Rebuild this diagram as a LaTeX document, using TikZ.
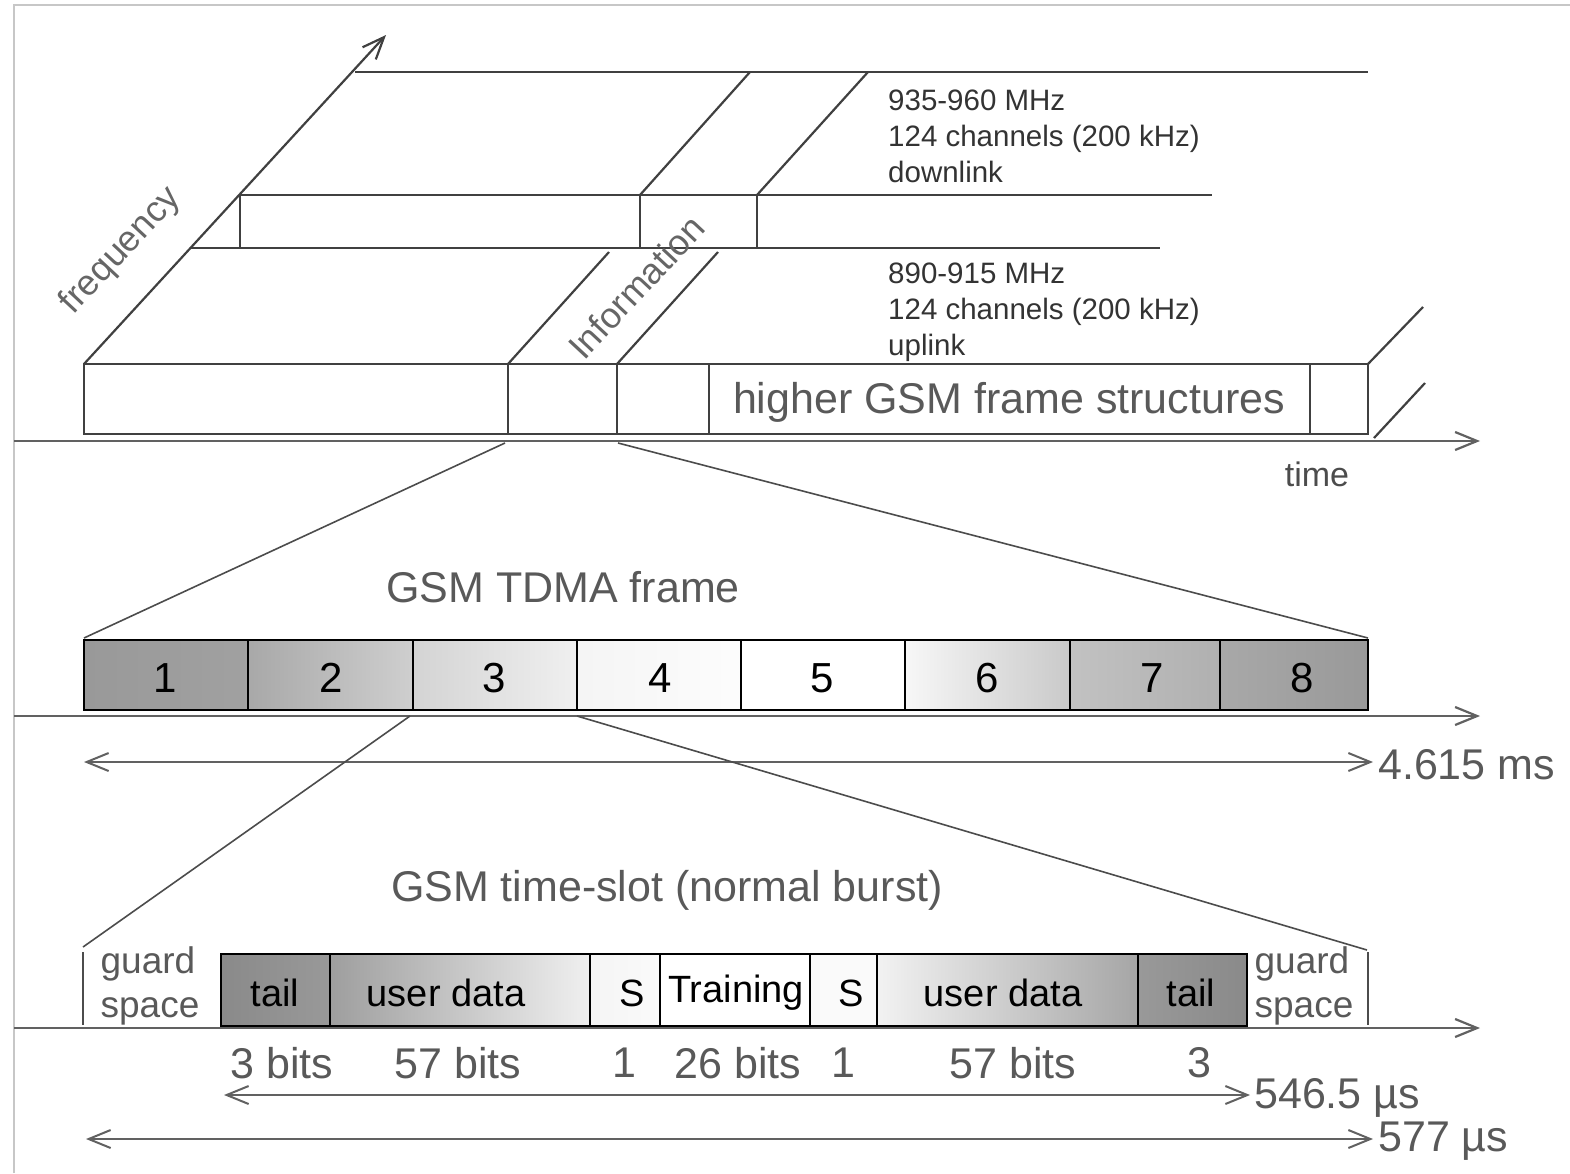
\documentclass[tikz,border=0pt]{standalone}
\usepackage{fontspec}
\setmainfont{Liberation Sans}
\usetikzlibrary{arrows.meta}
\begin{document}
\begin{tikzpicture}[x=1pt,y=-1pt,
  ln/.style={draw=black!75, line width=2.2pt},
  thinln/.style={draw=black!70, line width=1.6pt},
  axis/.style={draw=black!62, line width=2.2pt, -{Straight Barb[length=22pt,width=18pt]}},
  dbl/.style={draw=black!62, line width=2pt, {Straight Barb[length=22pt,width=18pt]}-{Straight Barb[length=22pt,width=18pt]}},
  box/.style={draw=black, line width=2.6pt},
  divi/.style={draw=black, line width=1.6pt},
  bigtxt/.style={font=\fontsize{43}{50}\selectfont, text=black!65, inner sep=0pt},
  numtxt/.style={font=\fontsize{42}{50}\selectfont, text=black, inner sep=0pt},
  celltxt/.style={font=\fontsize{38}{44}\selectfont, text=black, inner sep=0pt},
  guardtxt/.style={font=\fontsize{37}{44}\selectfont, text=black!65, inner sep=0pt, align=left},
  bandtxt/.style={font=\fontsize{29.5}{36}\selectfont, text=black!80, inner sep=0pt, align=left, anchor=west},
  rottxt/.style={font=\fontsize{36}{42}\selectfont, text=black!60, inner sep=0pt, rotate=47},
]
\useasboundingbox (0,0) rectangle (1570,1173);
% frame
\draw[draw=black!22, line width=2pt] (14,1173) -- (14,5) -- (1570,5);

% ---------- top section ----------
\coordinate (fbase) at (84,364);
\coordinate (ftip) at (386,35);
\draw[ln, -{Straight Barb[length=22pt,width=18pt]}] (fbase) -- (ftip);
\draw[ln] (355,72) -- (1368,72);
\draw[ln] (750,72) -- (640,195);
\draw[ln] (868,72) -- (757,195);
\draw[ln] (240,195) -- (1212,195);
\draw[ln] (240,195) -- (240,247);
\draw[ln] (640,195) -- (640,247);
\draw[ln] (757,195) -- (757,247);
\draw[ln] (190,248) -- (1160,248);
\draw[ln] (609,252) -- (508,364);
\draw[ln] (718,252) -- (617,364);
% box
\draw[ln] (84,364) rectangle (1368,434);
\foreach \x in {508,617,709,1310} \draw[ln] (\x,364) -- (\x,434);
\draw[ln] (1368,364) -- (1423,307);
\draw[ln] (1374,438) -- (1425,383);
% time axis
\coordinate (t0) at (14,441);
\coordinate (t1) at (1480,441);
\draw[axis] (t0) -- (t1);

\node[bigtxt] (higher) at (1009,402) {higher GSM frame structures};
\node[bandtxt] (down) at (888,136) {935-960 MHz\\124 channels (200 kHz)\\downlink};
\node[bandtxt] (up) at (888,312) {890-915 MHz\\124 channels (200 kHz)\\uplink};
\node[font=\fontsize{34}{40}\selectfont, text=black!70, inner sep=0pt] (time) at (1317,474) {time};
\node[rottxt] (freq) at (121,251) {frequency};
\node[rottxt] (info) at (636,287) {Information};

% zoom lines top -> frame
\coordinate (z1a) at (505,443);
\coordinate (z1b) at (618,443);
\coordinate (fr0) at (84,638);
\coordinate (fr1) at (1368,638);
\draw[thinln] (z1a) -- (fr0);
\draw[thinln] (z1b) -- (fr1);

% ---------- TDMA frame ----------
\node[bigtxt] (tdma) at (563,587) {GSM TDMA frame};
\fill[left color=black!40, right color=black!37] (84,640) rectangle (248,710);
\fill[left color=black!34, right color=black!19] (248,640) rectangle (413,710);
\fill[left color=black!17, right color=black!6] (413,640) rectangle (577,710);
\fill[left color=black!4, right color=black!1] (577,640) rectangle (741,710);
\fill[white] (741,640) rectangle (905,710);
\fill[left color=black!3, right color=black!21] (905,640) rectangle (1070,710);
\fill[left color=black!24, right color=black!31] (1070,640) rectangle (1220,710);
\fill[left color=black!34, right color=black!40] (1220,640) rectangle (1368,710);
\foreach \x in {248,413,577,741,905,1070,1220} \draw[divi] (\x,640) -- (\x,710);
\draw[box] (84,640) rectangle (1368,710);
\node[numtxt] (s1) at (165,678) {1};
\node[numtxt] (s2) at (331,678) {2};
\node[numtxt] (s3) at (494,678) {3};
\node[numtxt] (s4) at (660,678) {4};
\node[numtxt] (s5) at (822,678) {5};
\node[numtxt] (s6) at (987,678) {6};
\node[numtxt] (s7) at (1152,678) {7};
\node[numtxt] (s8) at (1302,678) {8};

\coordinate (t2) at (14,716);
\coordinate (t3) at (1480,716);
\draw[axis] (t2) -- (t3);
\coordinate (d0) at (84,762);
\coordinate (d1) at (1373,762);
\draw[dbl] (d0) -- (d1);
\node[bigtxt, anchor=west] (ms) at (1378,765) {4.615 ms};

% zoom lines slot 3 -> burst
\coordinate (z2a) at (410,716);
\coordinate (z2b) at (577,716);
\coordinate (g0) at (83,947);
\coordinate (g1) at (1367,950);
\draw[thinln] (z2a) -- (g0);
\draw[thinln] (z2b) -- (g1);

% ---------- time-slot ----------
\node[bigtxt] (slot) at (667,890) {GSM time-slot (normal burst)};
\draw[thinln] (83,952) -- (83,1025);
\draw[thinln] (1368,952) -- (1368,1025);
\node[guardtxt] (gl) at (150,986) {guard\\space};
\node[guardtxt] (gr) at (1304,986) {guard\\space};

\fill[left color=black!46, right color=black!40] (221,954) rectangle (330,1026);
\fill[left color=black!38, right color=black!6] (330,954) rectangle (590,1026);
\fill[left color=black!4, right color=black!2] (590,954) rectangle (660,1026);
\fill[white] (660,954) rectangle (810,1026);
\fill[black!2] (810,954) rectangle (877,1026);
\fill[left color=black!5, right color=black!35] (877,954) rectangle (1138,1026);
\fill[left color=black!40, right color=black!46] (1138,954) rectangle (1247,1026);
\foreach \x in {330,590,660,810,877,1138} \draw[divi] (\x,954) -- (\x,1026);
\draw[box] (221,954) rectangle (1247,1026);
\node[celltxt] (c1) at (275,993) {tail};
\node[celltxt] (c2) at (446,993) {user data};
\node[celltxt] (c3) at (632,993) {S};
\node[celltxt] (c4) at (736,993) {Training};
\node[celltxt] (c5) at (851,993) {S};
\node[celltxt] (c6) at (1003,993) {user data};
\node[celltxt] (c7) at (1191,993) {tail};

\coordinate (t4) at (14,1028);
\coordinate (t5) at (1480,1028);
\draw[axis] (t4) -- (t5);

\node[bigtxt] (b1) at (282,1063) {3 bits};
\node[bigtxt] (b2) at (458,1063) {57 bits};
\node[bigtxt] (b3) at (624,1063) {1};
\node[bigtxt] (b4) at (738,1063) {26 bits};
\node[bigtxt] (b5) at (843,1063) {1};
\node[bigtxt] (b6) at (1013,1063) {57 bits};
\node[bigtxt] (b7) at (1199,1063) {3};

\coordinate (d2) at (224,1095);
\coordinate (d3) at (1250,1095);
\draw[dbl] (d2) -- (d3);
\node[bigtxt, anchor=west] (us1) at (1254,1098) {546.5 µs};
\coordinate (d4) at (86,1139);
\coordinate (d5) at (1373,1139);
\draw[dbl] (d4) -- (d5);
\node[bigtxt, anchor=west] (us2) at (1378,1141) {577 µs};
\end{tikzpicture}
\end{document}
